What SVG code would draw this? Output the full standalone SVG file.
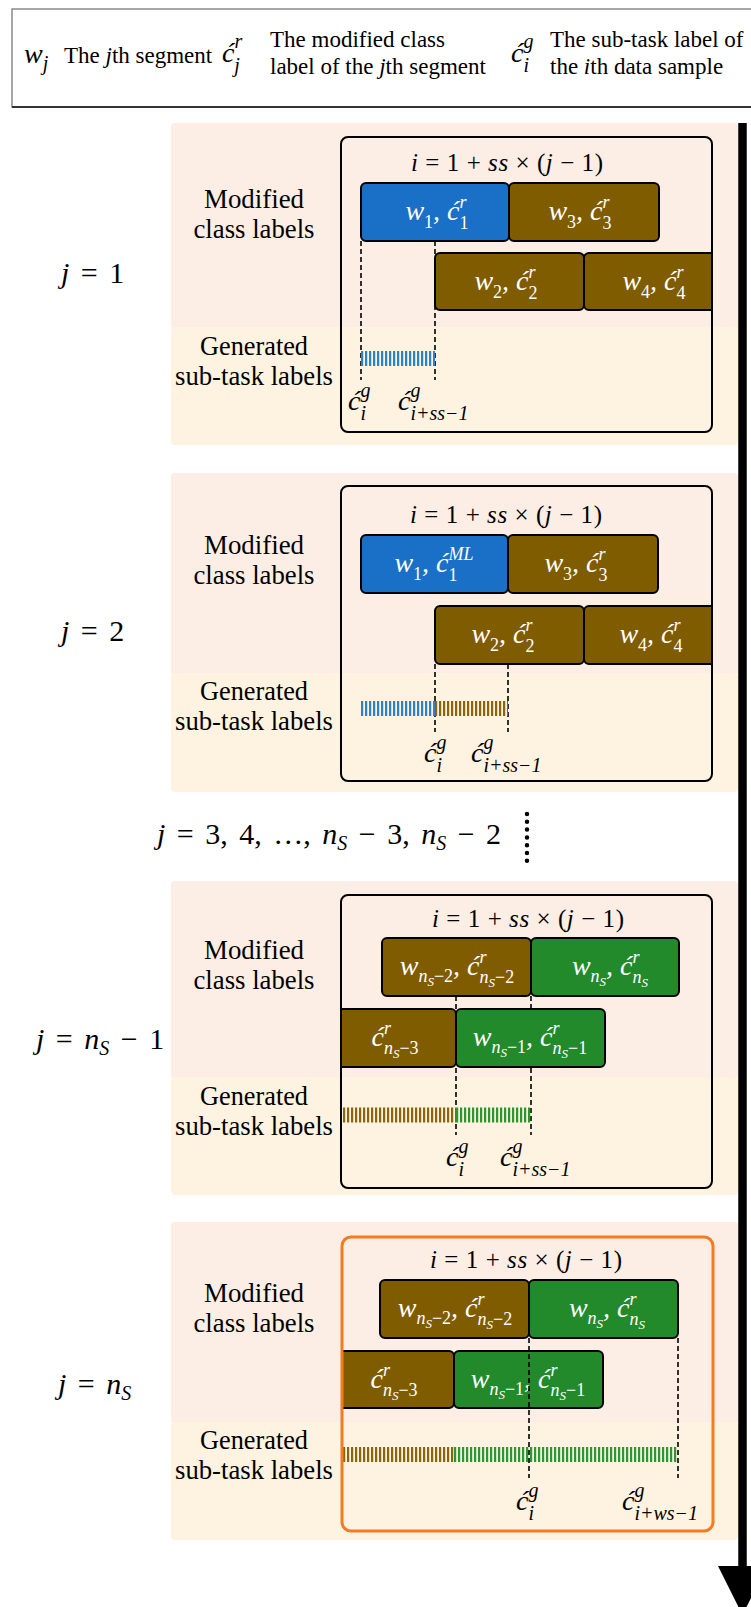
<svg xmlns="http://www.w3.org/2000/svg" width="751" height="1607" viewBox="0 0 751 1607">
<defs>
<style>
.pk{fill:#FCEDE5}
.yl{fill:#FEF2E1}
.ib{fill:none;stroke:#000;stroke-width:2}
.ob{fill:none;stroke:#F47B20;stroke-width:3}
.bb{fill:#1A6FC6;stroke:#000;stroke-width:2}
.br{fill:#7F5C00;stroke:#000;stroke-width:2}
.gr{fill:#228A2B;stroke:#000;stroke-width:2}
.side{font-family:"Liberation Serif",serif;font-size:28px;text-anchor:middle;fill:#000}
.hd{font-family:"Liberation Serif",serif;font-size:23px;fill:#000}
.eq{font-family:"Liberation Serif",serif;font-size:30px;fill:#000;word-spacing:4px}
.fm{font-family:"Liberation Serif",serif;font-size:25px;fill:#000;text-anchor:middle}
.m{font-family:"Liberation Serif",serif;font-style:italic;font-size:28px;fill:#fff;text-anchor:middle}
.cl{font-family:"Liberation Serif",serif;font-style:italic;font-size:28px;fill:#000}
.s{font-size:18px}
.ss{font-size:13px}
.d{font-size:18px;font-style:normal}
.s2{font-size:20px}
.i{font-style:italic}
.dash{stroke:#000;stroke-width:1.6;stroke-dasharray:5 3;fill:none}
.stB{stroke:#2E7FD2;stroke-width:15;stroke-dasharray:2.2 1.8}
.stR{stroke:#8A6510;stroke-width:15;stroke-dasharray:2.2 1.8}
.stG{stroke:#2E962E;stroke-width:15;stroke-dasharray:2.2 1.8}
</style>
<clipPath id="cp1"><rect x="341" y="137" width="371" height="295"/></clipPath>
<clipPath id="cp2"><rect x="341" y="486" width="371" height="295"/></clipPath>
<clipPath id="cp3"><rect x="341" y="895" width="371" height="293"/></clipPath>
<clipPath id="cp4"><rect x="342" y="1237" width="371" height="294"/></clipPath>
</defs>

<rect width="751" height="1607" fill="#fff"/>

<g id="legend">
<rect x="12" y="9" width="745" height="98" fill="#fff" stroke="#8a8a8a" stroke-width="1.5"/>
<line x1="12" y1="107" x2="751" y2="107" stroke="#333" stroke-width="2"/>
<text class="cl" x="24" y="63" font-size="30">w<tspan class="s2" dy="7">j</tspan></text>
<text class="hd" x="64" y="63">The <tspan class="i">j</tspan>th segment</text>
<text class="cl" x="222" y="62" font-size="30">ć<tspan class="s2" dy="-14">r</tspan><tspan class="s2" dx="-8" dy="24">j</tspan></text>
<text class="hd" x="270" y="47">The modified class</text>
<text class="hd" x="270" y="74">label of the <tspan class="i">j</tspan>th segment</text>
<text class="cl" x="511" y="62" font-size="30">ć<tspan class="s2" dy="-14">g</tspan><tspan class="s2" dx="-10" dy="24">i</tspan></text>
<text class="hd" x="550" y="47">The sub-task label of</text>
<text class="hd" x="550" y="74">the <tspan class="i">i</tspan>th data sample</text>
</g>

<g id="connectors">
<line x1="742.5" y1="123" x2="742.5" y2="1568" stroke="#000" stroke-width="8.5"/>
<polygon points="718,1566 767,1566 742.5,1615" fill="#000"/>
<line x1="527" y1="814" x2="527" y2="862" stroke="#000" stroke-width="4.5" stroke-linecap="round" stroke-dasharray="0 7.8"/>
</g>

<!-- Panel 1 -->
<g id="panel1">
<rect class="pk" x="171" y="123" width="567" height="206" rx="4"/>
<rect class="yl" x="171" y="327" width="567" height="118" rx="4"/>
<rect class="pk" x="171" y="320" width="567" height="7"/>
<text class="side" x="254" y="208" textLength="100" lengthAdjust="spacingAndGlyphs">Modified</text>
<text class="side" x="254" y="238" textLength="121" lengthAdjust="spacingAndGlyphs">class labels</text>
<text class="side" x="254" y="355" textLength="108" lengthAdjust="spacingAndGlyphs">Generated</text>
<text class="side" x="254" y="385" textLength="158" lengthAdjust="spacingAndGlyphs">sub-task labels</text>
<text class="eq" x="61" y="283"><tspan class="i">j</tspan> = 1</text>
<text class="fm" x="507" y="171" textLength="192" lengthAdjust="spacing"><tspan class="i">i</tspan> = 1 + <tspan class="i">ss</tspan> × (<tspan class="i">j</tspan> − 1)</text>
<line class="dash" x1="361" y1="241" x2="361" y2="380"/>
<line class="dash" x1="435" y1="241" x2="435" y2="380"/>
<line class="stB" x1="361" y1="358.5" x2="435" y2="358.5"/>
<g id="p1w1"><rect class="bb" x="361" y="183" width="148" height="58" rx="5"/>
<text class="m" x="437" y="220">w<tspan class="d" dy="8">1</tspan><tspan dy="-8">, ć</tspan><tspan class="s" dy="-12">r</tspan><tspan class="d" dx="-7" dy="21">1</tspan></text></g>
<g id="p1w3"><rect class="br" x="509" y="183" width="150" height="58" rx="5"/>
<text class="m" x="580" y="220">w<tspan class="d" dy="8">3</tspan><tspan dy="-8">, ć</tspan><tspan class="s" dy="-12">r</tspan><tspan class="d" dx="-7" dy="21">3</tspan></text></g>
<g id="p1w2"><rect class="br" x="435" y="253" width="149" height="57" rx="5"/>
<text class="m" x="506" y="290">w<tspan class="d" dy="8">2</tspan><tspan dy="-8">, ć</tspan><tspan class="s" dy="-12">r</tspan><tspan class="d" dx="-7" dy="21">2</tspan></text></g>
<g id="p1w4"><rect class="br" x="584" y="253" width="160" height="57" rx="5" clip-path="url(#cp1)"/>
<text class="m" x="654" y="290">w<tspan class="d" dy="8">4</tspan><tspan dy="-8">, ć</tspan><tspan class="s" dy="-12">r</tspan><tspan class="d" dx="-7" dy="21">4</tspan></text></g>
<rect class="ib" x="341" y="137" width="371" height="295" rx="7"/>
<text class="cl" x="348" y="410">ć<tspan class="s2" dy="-13">g</tspan><tspan class="s2" dx="-10" dy="23">i</tspan></text>
<text class="cl" x="398" y="410">ć<tspan class="s2" dy="-13">g</tspan><tspan class="s2" dx="-10" dy="23">i+ss−1</tspan></text>
</g>

<!-- Panel 2 -->
<g id="panel2">
<rect class="pk" x="171" y="473" width="567" height="202" rx="4"/>
<rect class="yl" x="171" y="673" width="567" height="119" rx="4"/>
<rect class="pk" x="171" y="666" width="567" height="7"/>
<text class="side" x="254" y="554" textLength="100" lengthAdjust="spacingAndGlyphs">Modified</text>
<text class="side" x="254" y="584" textLength="121" lengthAdjust="spacingAndGlyphs">class labels</text>
<text class="side" x="254" y="700" textLength="108" lengthAdjust="spacingAndGlyphs">Generated</text>
<text class="side" x="254" y="730" textLength="158" lengthAdjust="spacingAndGlyphs">sub-task labels</text>
<text class="eq" x="61" y="641"><tspan class="i">j</tspan> = 2</text>
<text class="fm" x="506" y="523" textLength="192" lengthAdjust="spacing"><tspan class="i">i</tspan> = 1 + <tspan class="i">ss</tspan> × (<tspan class="i">j</tspan> − 1)</text>
<line class="dash" x1="435" y1="664" x2="435" y2="732"/>
<line class="dash" x1="508" y1="664" x2="508" y2="732"/>
<line class="stB" x1="361" y1="708.5" x2="435" y2="708.5"/>
<line class="stR" x1="435" y1="708.5" x2="508" y2="708.5"/>
<g id="p2w1"><rect class="bb" x="361" y="535" width="147" height="58" rx="5"/>
<text class="m" x="434" y="572">w<tspan class="d" dy="8">1</tspan><tspan dy="-8">, ć</tspan><tspan class="s" dy="-12">ML</tspan><tspan class="d" dx="-25" dy="21">1</tspan><tspan class="s" dx="14"> </tspan></text></g>
<g id="p2w3"><rect class="br" x="508" y="535" width="150" height="58" rx="5"/>
<text class="m" x="576" y="572">w<tspan class="d" dy="8">3</tspan><tspan dy="-8">, ć</tspan><tspan class="s" dy="-12">r</tspan><tspan class="d" dx="-7" dy="21">3</tspan></text></g>
<g id="p2w2"><rect class="br" x="435" y="606" width="149" height="58" rx="5"/>
<text class="m" x="503" y="643">w<tspan class="d" dy="8">2</tspan><tspan dy="-8">, ć</tspan><tspan class="s" dy="-12">r</tspan><tspan class="d" dx="-7" dy="21">2</tspan></text></g>
<g id="p2w4"><rect class="br" x="584" y="606" width="160" height="58" rx="5" clip-path="url(#cp2)"/>
<text class="m" x="651" y="643">w<tspan class="d" dy="8">4</tspan><tspan dy="-8">, ć</tspan><tspan class="s" dy="-12">r</tspan><tspan class="d" dx="-7" dy="21">4</tspan></text></g>
<rect class="ib" x="341" y="486" width="371" height="295" rx="7"/>
<text class="cl" x="424" y="762">ć<tspan class="s2" dy="-13">g</tspan><tspan class="s2" dx="-10" dy="23">i</tspan></text>
<text class="cl" x="471" y="762">ć<tspan class="s2" dy="-13">g</tspan><tspan class="s2" dx="-10" dy="23">i+ss−1</tspan></text>
</g>

<g id="middle">
<text class="eq" x="157" y="844"><tspan class="i">j</tspan> = 3, 4, …, <tspan class="i">n</tspan><tspan class="i" font-size="20" dy="6">S</tspan><tspan dy="-6"> − 3, </tspan><tspan class="i">n</tspan><tspan class="i" font-size="20" dy="6">S</tspan><tspan dy="-6"> − 2</tspan></text>
</g>

<!-- Panel 3 -->
<g id="panel3">
<rect class="pk" x="171" y="881" width="567" height="198" rx="4"/>
<rect class="yl" x="171" y="1077" width="567" height="118" rx="4"/>
<rect class="pk" x="171" y="1070" width="567" height="7"/>
<text class="side" x="254" y="959" textLength="100" lengthAdjust="spacingAndGlyphs">Modified</text>
<text class="side" x="254" y="989" textLength="121" lengthAdjust="spacingAndGlyphs">class labels</text>
<text class="side" x="254" y="1105" textLength="108" lengthAdjust="spacingAndGlyphs">Generated</text>
<text class="side" x="254" y="1135" textLength="158" lengthAdjust="spacingAndGlyphs">sub-task labels</text>
<text class="eq" x="36" y="1049"><tspan class="i">j</tspan> = <tspan class="i">n</tspan><tspan class="i" font-size="20" dy="6">S</tspan><tspan dy="-6"> − 1</tspan></text>
<text class="fm" x="528" y="927" textLength="192" lengthAdjust="spacing"><tspan class="i">i</tspan> = 1 + <tspan class="i">ss</tspan> × (<tspan class="i">j</tspan> − 1)</text>
<line class="dash" x1="456" y1="996" x2="456" y2="1135"/>
<line class="dash" x1="531" y1="996" x2="531" y2="1135"/>
<line class="stR" x1="343" y1="1115" x2="456" y2="1115"/>
<line class="stG" x1="456" y1="1115" x2="531" y2="1115"/>
<g id="p3a"><rect class="br" x="382" y="938" width="149" height="58" rx="5"/>
<text class="m" x="457" y="975">w<tspan class="s" dy="7">n</tspan><tspan class="ss" dy="4">S</tspan><tspan class="d" dy="-4">−2</tspan><tspan dy="-7">, ć</tspan><tspan class="s" dy="-12">r</tspan><tspan class="s" dx="-7" dy="20">n</tspan><tspan class="ss" dy="4">S</tspan><tspan class="d" dy="-4">−2</tspan></text></g>
<g id="p3b"><rect class="gr" x="531" y="938" width="148" height="58" rx="5"/>
<text class="m" x="610" y="975">w<tspan class="s" dy="7">n</tspan><tspan class="ss" dy="4">S</tspan><tspan dy="-11">, ć</tspan><tspan class="s" dy="-12">r</tspan><tspan class="s" dx="-7" dy="20">n</tspan><tspan class="ss" dy="4">S</tspan></text></g>
<g id="p3c"><rect class="br" x="300" y="1009" width="156" height="58" rx="5" clip-path="url(#cp3)"/>
<text class="m" x="395" y="1046">ć<tspan class="s" dy="-12">r</tspan><tspan class="s" dx="-7" dy="20">n</tspan><tspan class="ss" dy="4">S</tspan><tspan class="d" dy="-4">−3</tspan></text></g>
<g id="p3d"><rect class="gr" x="456" y="1009" width="149" height="58" rx="5"/>
<text class="m" x="530" y="1046">w<tspan class="s" dy="7">n</tspan><tspan class="ss" dy="4">S</tspan><tspan class="d" dy="-4">−1</tspan><tspan dy="-7">, ć</tspan><tspan class="s" dy="-12">r</tspan><tspan class="s" dx="-7" dy="20">n</tspan><tspan class="ss" dy="4">S</tspan><tspan class="d" dy="-4">−1</tspan></text></g>
<rect class="ib" x="341" y="895" width="371" height="293" rx="7"/>
<text class="cl" x="446" y="1166">ć<tspan class="s2" dy="-13">g</tspan><tspan class="s2" dx="-10" dy="23">i</tspan></text>
<text class="cl" x="500" y="1166">ć<tspan class="s2" dy="-13">g</tspan><tspan class="s2" dx="-10" dy="23">i+ss−1</tspan></text>
</g>

<!-- Panel 4 -->
<g id="panel4">
<rect class="pk" x="171" y="1222" width="567" height="202" rx="4"/>
<rect class="yl" x="171" y="1422" width="567" height="118" rx="4"/>
<rect class="pk" x="171" y="1415" width="567" height="7"/>
<text class="side" x="254" y="1302" textLength="100" lengthAdjust="spacingAndGlyphs">Modified</text>
<text class="side" x="254" y="1332" textLength="121" lengthAdjust="spacingAndGlyphs">class labels</text>
<text class="side" x="254" y="1449" textLength="108" lengthAdjust="spacingAndGlyphs">Generated</text>
<text class="side" x="254" y="1479" textLength="158" lengthAdjust="spacingAndGlyphs">sub-task labels</text>
<text class="eq" x="58" y="1394"><tspan class="i">j</tspan> = <tspan class="i">n</tspan><tspan class="i" font-size="20" dy="6">S</tspan></text>
<text class="fm" x="526" y="1268" textLength="192" lengthAdjust="spacing"><tspan class="i">i</tspan> = 1 + <tspan class="i">ss</tspan> × (<tspan class="i">j</tspan> − 1)</text>
<line class="stR" x1="343" y1="1454.5" x2="454" y2="1454.5"/>
<line class="stG" x1="454" y1="1454.5" x2="678" y2="1454.5"/>
<g id="p4a"><rect class="br" x="380" y="1280" width="149" height="58" rx="5"/>
<text class="m" x="455" y="1317">w<tspan class="s" dy="7">n</tspan><tspan class="ss" dy="4">S</tspan><tspan class="d" dy="-4">−2</tspan><tspan dy="-7">, ć</tspan><tspan class="s" dy="-12">r</tspan><tspan class="s" dx="-7" dy="20">n</tspan><tspan class="ss" dy="4">S</tspan><tspan class="d" dy="-4">−2</tspan></text></g>
<g id="p4b"><rect class="gr" x="529" y="1280" width="149" height="58" rx="5"/>
<text class="m" x="607" y="1317">w<tspan class="s" dy="7">n</tspan><tspan class="ss" dy="4">S</tspan><tspan dy="-11">, ć</tspan><tspan class="s" dy="-12">r</tspan><tspan class="s" dx="-7" dy="20">n</tspan><tspan class="ss" dy="4">S</tspan></text></g>
<g id="p4c"><rect class="br" x="298" y="1351" width="156" height="57" rx="5" clip-path="url(#cp4)"/>
<text class="m" x="394" y="1388">ć<tspan class="s" dy="-12">r</tspan><tspan class="s" dx="-7" dy="20">n</tspan><tspan class="ss" dy="4">S</tspan><tspan class="d" dy="-4">−3</tspan></text></g>
<g id="p4d"><rect class="gr" x="454" y="1351" width="149" height="57" rx="5"/>
<text class="m" x="528" y="1388">w<tspan class="s" dy="7">n</tspan><tspan class="ss" dy="4">S</tspan><tspan class="d" dy="-4">−1</tspan><tspan dy="-7">, ć</tspan><tspan class="s" dy="-12">r</tspan><tspan class="s" dx="-7" dy="20">n</tspan><tspan class="ss" dy="4">S</tspan><tspan class="d" dy="-4">−1</tspan></text></g>
<line class="dash" x1="529" y1="1338" x2="529" y2="1478"/>
<line class="dash" x1="678" y1="1338" x2="678" y2="1478"/>
<rect class="ob" x="342" y="1237" width="371" height="294" rx="9"/>
<text class="cl" x="516" y="1510">ć<tspan class="s2" dy="-13">g</tspan><tspan class="s2" dx="-10" dy="23">i</tspan></text>
<text class="cl" x="622" y="1510">ć<tspan class="s2" dy="-13">g</tspan><tspan class="s2" dx="-10" dy="23">i+ws−1</tspan></text>
</g>
</svg>
